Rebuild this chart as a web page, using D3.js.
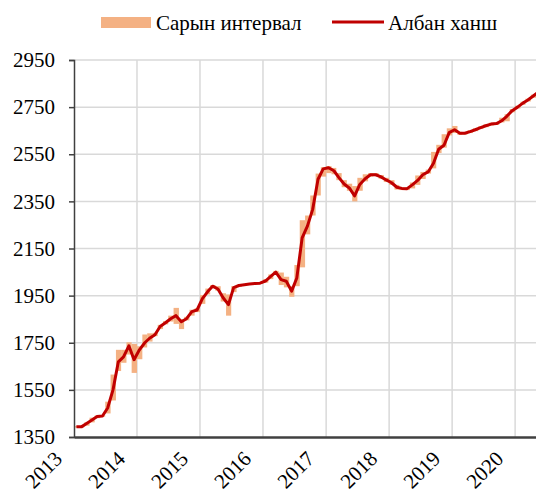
<!DOCTYPE html>
<html>
<head>
<meta charset="utf-8">
<script src="https://cdn.jsdelivr.net/npm/d3@7"></script>
<style>
  body { margin: 0; background: #fff; }
  text { font-family: "Liberation Serif", "Times New Roman", serif; }
</style>
</head>
<body>
<svg id="chart" width="536" height="494"></svg>
<script>
// monthly series, starting January 2013
const startYear = 2013
const yearTicks = [2013, 2014, 2015, 2016, 2017, 2018, 2019, 2020]
const yTicks = [1350, 1550, 1750, 1950, 2150, 2350, 2550, 2750, 2950]

// official rate (Албан ханш)
const rate = [
  1393, 1394, 1407, 1422, 1437, 1439, 1473, 1550, 1669, 1690, 1737, 1678,
  1720, 1750, 1769, 1784, 1819, 1835, 1852, 1865, 1839, 1852, 1882, 1889,
  1937, 1967, 1990, 1978, 1941, 1912, 1984, 1993, 1996, 1999, 2001, 2003,
  2012, 2032, 2050, 2018, 2011, 1969, 2025, 2195, 2246, 2316, 2444, 2488,
  2493, 2480, 2452, 2424, 2407, 2373, 2422, 2446, 2463, 2463, 2454, 2441,
  2429, 2410, 2405, 2404, 2420, 2439, 2463, 2475, 2512, 2571, 2588, 2642,
  2654, 2639, 2639, 2646, 2654, 2663, 2671, 2678, 2680, 2692, 2712, 2735,
  2750, 2767, 2780, 2797, 2814
]

// monthly interval (Сарын интервал): lowest and highest rate of the month
const low = [
  1390, 1391, 1398, 1412, 1430, 1436, 1450, 1505, 1630, 1665, 1700, 1622,
  1680, 1730, 1755, 1778, 1808, 1828, 1840, 1830, 1808, 1845, 1865, 1880,
  1915, 1955, 1982, 1970, 1925, 1865, 1965, 1988, 1993, 1996, 1998, 2000,
  2005, 2020, 2040, 1995, 1985, 1945, 1990, 2070, 2210, 2290, 2375, 2455,
  2470, 2465, 2440, 2410, 2395, 2350, 2395, 2435, 2455, 2457, 2446, 2432,
  2420, 2400, 2398, 2398, 2405, 2420, 2445, 2468, 2490, 2555, 2578, 2630,
  2640, 2632, 2634, 2640, 2648, 2657, 2665, 2672, 2675, 2685, 2690, 2728,
  2744, 2760, 2774, 2790, 2808
]
const high = [
  1396, 1397, 1412, 1432, 1441, 1442, 1500, 1615, 1720, 1720, 1752, 1745,
  1735, 1785, 1790, 1792, 1826, 1842, 1865, 1898, 1850, 1860, 1890, 1897,
  1952, 1980, 1995, 1990, 1960, 1955, 1990, 1996, 1998, 2001, 2003, 2006,
  2020, 2040, 2055, 2048, 2030, 1990, 2080, 2270, 2290, 2375, 2468, 2495,
  2500, 2492, 2470, 2440, 2425, 2415, 2450, 2465, 2470, 2470, 2462, 2450,
  2440, 2420, 2410, 2410, 2430, 2460, 2475, 2485, 2560, 2590, 2635, 2660,
  2670, 2645, 2644, 2652, 2660, 2669, 2677, 2684, 2686, 2705, 2720, 2742,
  2756, 2773, 2786, 2803, 2820
]

const months = rate.map((v, i) => ({
  start: new Date(startYear, i, 1),
  mid: new Date(startYear, i, 15),
  end: new Date(startYear, i + 1, 1),
  rate: v,
  low: low[i],
  high: high[i]
}))

const svg = d3.select("#chart")
const margin = { top: 60, right: 0, bottom: 57, left: 74 }
const width = 536, height = 494
const fontSize = "21px"

const x = d3.scaleTime()
  .domain([new Date(2013, 0, 1), new Date(2020, 4, 1)])
  .range([margin.left, width - margin.right])
const y = d3.scaleLinear()
  .domain([1350, 2950])
  .range([height - margin.bottom, margin.top])

const grid = "#d9d9d9", axisColor = "#404040"
const barColor = "#f4b183", lineColor = "#c00000"

svg.append("defs").append("clipPath").attr("id", "plot")
  .append("rect")
  .attr("x", margin.left).attr("y", margin.top - 5)
  .attr("width", width - margin.left).attr("height", height - margin.bottom - margin.top + 5)

// gridlines
svg.append("g")
  .selectAll("line.h")
  .data(yTicks.slice(1))
  .join("line")
  .attr("x1", margin.left).attr("x2", width)
  .attr("y1", d => y(d)).attr("y2", d => y(d))
  .attr("stroke", grid).attr("stroke-width", 1.5)

svg.append("g")
  .selectAll("line.v")
  .data(yearTicks.slice(1))
  .join("line")
  .attr("x1", d => x(new Date(d, 0, 1))).attr("x2", d => x(new Date(d, 0, 1)))
  .attr("y1", margin.top).attr("y2", height - margin.bottom)
  .attr("stroke", grid).attr("stroke-width", 1.5)

const plot = svg.append("g").attr("clip-path", "url(#plot)")

// monthly interval bars
plot.append("g")
  .selectAll("rect")
  .data(months)
  .join("rect")
  .attr("x", d => x(d.start))
  .attr("width", d => x(d.end) - x(d.start))
  .attr("y", d => y(d.high))
  .attr("height", d => y(d.low) - y(d.high))
  .attr("fill", barColor)

// official rate line
plot.append("path")
  .datum(months)
  .attr("fill", "none")
  .attr("stroke", lineColor)
  .attr("stroke-width", 3)
  .attr("stroke-linejoin", "round")
  .attr("d", d3.line().x(d => x(d.mid)).y(d => y(d.rate)))

// y axis
const yAxis = svg.append("g")
  .attr("transform", `translate(${margin.left},0)`)
  .call(d3.axisLeft(y).tickValues(yTicks).tickSize(5).tickPadding(14).tickFormat(d3.format("d")))
yAxis.select(".domain").attr("stroke", axisColor).attr("stroke-width", 1.5)
yAxis.selectAll(".tick line").attr("stroke", axisColor).attr("stroke-width", 1.5)
yAxis.selectAll(".tick text")
  .attr("fill", "#000")
  .style("font-size", fontSize)
  .style("font-family", "'Liberation Serif', serif")

// x axis
const xAxis = svg.append("g")
  .attr("transform", `translate(0,${height - margin.bottom})`)
  .call(d3.axisBottom(x).tickValues(yearTicks.map(d => new Date(d, 0, 1))).tickSize(0).tickFormat(d3.timeFormat("%Y")))
xAxis.select(".domain").attr("stroke", axisColor).attr("stroke-width", 2.5)
xAxis.selectAll(".tick text")
  .attr("fill", "#000")
  .style("font-size", fontSize)
  .style("font-family", "'Liberation Serif', serif")
  .attr("text-anchor", "end")
  .attr("dy", null)
  .attr("y", 0)
  .attr("transform", "translate(-11,23) rotate(-45)")

// legend
const legend = svg.append("g")
legend.append("rect")
  .attr("x", 101).attr("y", 17).attr("width", 50).attr("height", 11)
  .attr("fill", barColor)
legend.append("text")
  .attr("x", 156).attr("y", 30)
  .style("font-size", fontSize)
  .text("Сарын интервал")
legend.append("line")
  .attr("x1", 332).attr("x2", 384).attr("y1", 22).attr("y2", 22)
  .attr("stroke", lineColor).attr("stroke-width", 3)
legend.append("text")
  .attr("x", 388).attr("y", 30)
  .style("font-size", fontSize)
  .text("Албан ханш")
</script>
</body>
</html>
